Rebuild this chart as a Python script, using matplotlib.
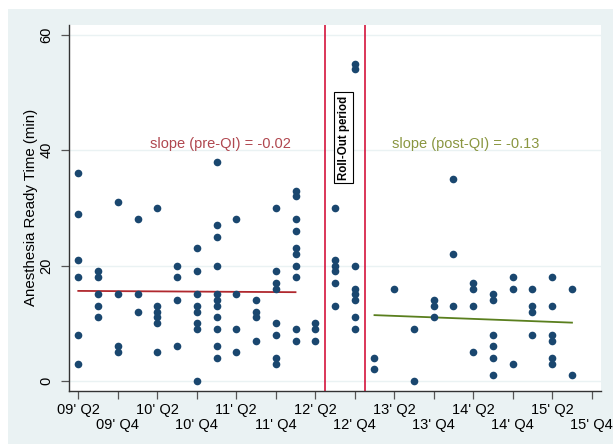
import numpy as np
import matplotlib.pyplot as plt
from matplotlib.patches import Rectangle

plt.rcParams['font.family'] = ['Liberation Sans', 'DejaVu Sans']

# quarter index 0 = 2009 Q2
tick_pos = list(range(0, 27, 2))
tick_labels = ["09' Q2", "09' Q4", "10' Q2", "10' Q4", "11' Q2", "11' Q4", "12' Q2",
               "12' Q4", "13' Q2", "13' Q4", "14' Q2", "14' Q4", "15' Q2", "15' Q4"]

# anesthesia ready time (min) per quarter
ready_times = [
    [36, 29, 21, 18, 8, 3],
    [19, 18, 15, 13, 11],
    [31, 15, 6, 5],
    [28, 15, 12],
    [30, 13, 12, 11, 10, 5],
    [20, 18, 14, 6],
    [23, 19, 15, 13, 12, 10, 9, 0],
    [38, 27, 25, 20, 15, 14, 13, 11, 9, 6, 4],
    [28, 15, 9, 5],
    [14, 12, 11, 7],
    [30, 19, 17, 16, 10, 8, 4, 3],
    [33, 32, 28, 26, 23, 22, 20, 18, 9, 7],
    [10, 9, 7],
    [30, 21, 20, 19, 17, 13],
    [55, 54, 20, 16, 15, 14, 11, 9],
    [4, 2],
    [16],
    [9, 0],
    [14, 13, 11],
    [35, 22, 13],
    [17, 16, 13, 5],
    [15, 14, 8, 6, 4, 1],
    [18, 16, 3],
    [16, 13, 12, 8],
    [18, 13, 8, 7, 4, 3],
    [16, 1],
]

# fitted lines: (first quarter, last quarter, value at first quarter, slope)
pre_fit = (0, 11, 15.6, -0.02)
post_fit = (15, 25, 11.4, -0.13)
rollout = (12.5, 14.5)

W, H = 613, 444
fig = plt.figure(figsize=(W / 100, H / 100), dpi=100)
fig.patch.set_facecolor('white')
fig.add_artist(Rectangle((8 / W, 0), 1, (H - 9) / H, transform=fig.transFigure,
                         facecolor='#EAF2F3', edgecolor='none', zorder=0))

ax = fig.add_axes([69 / W, (H - 390.7) / H, (601 - 69) / W, (390.7 - 25) / H])
ax.set_facecolor('white')
ax.set_xlim(-0.47, 26.47)
ax.set_ylim(-1.7, 61.7)

xs = np.concatenate([[q] * len(v) for q, v in enumerate(ready_times)])
ys = np.concatenate(ready_times)
ax.plot(xs, ys, 'o', color='#1A476F', ms=5.5, mew=0, zorder=4)

for (q0, q1, y0, b), col in [(pre_fit, '#B0282E'), (post_fit, '#5A7F1E')]:
    qq = np.array([q0, q1])
    ax.plot(qq, y0 + b * (qq - q0), color=col, lw=1.3, zorder=3)

for xv in rollout:
    ax.axvline(xv, color='#D4143C', lw=1.2, zorder=2)

ax.text(7.2, 41.0, 'slope (pre-QI) = -0.02', color='#B0474F', fontsize=10.5,
        ha='center', va='center')
ax.text(19.6, 41.0, 'slope (post-QI) = -0.13', color='#8A9640', fontsize=10.5,
        ha='center', va='center')
ax.text(13.45, 42.2, 'Roll-Out period', rotation=90, fontsize=8.3, fontweight='bold',
        ha='center', va='center',
        bbox=dict(boxstyle='square,pad=0.3', fc='white', ec='black', lw=0.8), zorder=5)

ax.set_yticks([0, 20, 40, 60])
ax.set_yticklabels(['0', '20', '40', '60'], rotation=90, va='center')
ax.grid(axis='y', color='#EAF2F3', lw=1, zorder=1)
ax.set_axisbelow(True)
ax.set_ylabel('Anesthesia Ready Time (min)', fontsize=10.8, labelpad=1)

ax.set_xticks(tick_pos)
ax.set_xticklabels([t if i % 2 == 0 else '\n' + t for i, t in enumerate(tick_labels)],
                   linespacing=1.05)
ax.tick_params(axis='both', labelsize=10.5, length=6, width=0.9, color='#555555',
               direction='out')
ax.tick_params(axis='x', pad=3)
ax.tick_params(axis='y', pad=5)

for s in ['top', 'right']:
    ax.spines[s].set_visible(False)
for s in ['left', 'bottom']:
    ax.spines[s].set_color('#333333')
    ax.spines[s].set_linewidth(1.0)

fig.savefig('out.png', dpi=100, facecolor=fig.get_facecolor())
